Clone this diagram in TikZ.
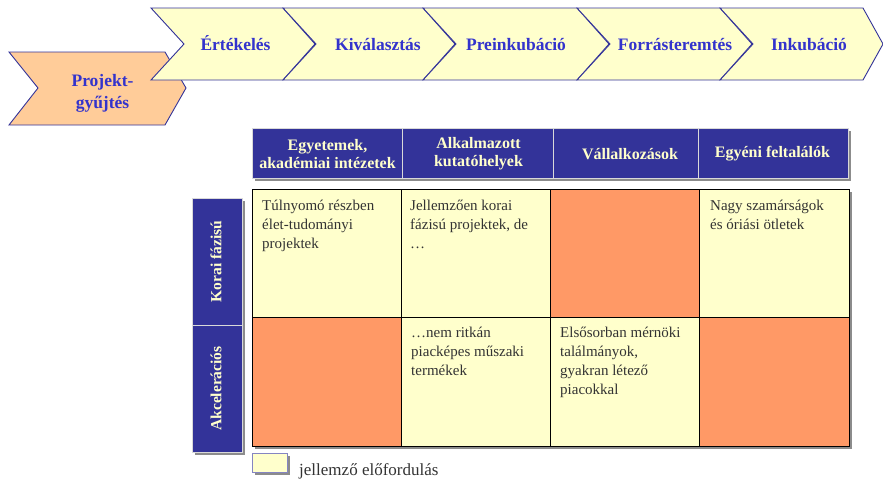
\documentclass[tikz,border=0pt]{standalone}
\usepackage{fontspec}
\setmainfont{Liberation Serif}
\definecolor{paleyellow}{HTML}{FFFFCC}
\definecolor{peach}{HTML}{FFCC99}
\definecolor{salmon}{HTML}{FF9966}
\definecolor{navy}{HTML}{333399}
\definecolor{chevblue}{HTML}{3333CC}
\definecolor{shadowgray}{HTML}{8C8C8C}
\definecolor{celltext}{HTML}{333333}
\begin{document}
\begin{tikzpicture}[x=1pt,y=-1pt,
    chev/.style={fill=paleyellow, draw=navy, line width=0.9pt},
    chevtext/.style={font=\fontsize{17.5}{22}\selectfont\bfseries, text=chevblue, align=center},
    headtext/.style={font=\fontsize{16}{18}\selectfont\bfseries, text=paleyellow, align=center},
    cell/.style={draw=black, line width=0.8pt},
    celltext/.style={anchor=north west, inner sep=0pt, align=left, text=celltext, font=\fontsize{15}{19}\selectfont},
    sidetext/.style={rotate=90, font=\fontsize{15.5}{18}\selectfont\bfseries, text=paleyellow}]
\useasboundingbox (0,0) rectangle (883,482);

% folyamat
\draw[chev, fill=peach] (9,52) -- (165,52) -- (186,88) -- (165,125) -- (9,125) -- (38,88) -- cycle;
\node[chevtext] (projekt) at (102.5,93) {Projekt-\\gyűjtés};

\foreach \a/\b/\d/\c/\nm/\txt in {151/283/32/235.5/ertek/Értékelés, 283/423/32/378/kival/Kiválasztás,
    423/577/32/516/preink/Preinkubáció, 577/720/32/675/forras/Forrásteremtés, 720/863/20/809/inkub/Inkubáció}{
  \draw[chev] (\a,8) -- (\b,8) -- ++(\d,36) -- (\b,80) -- (\a,80) -- ++(33,-36) -- cycle;
  \node[chevtext, anchor=base] (\nm) at (\c,50) {\txt};
}

% fejlec
\fill[shadowgray] (255,131) rectangle (851,181);
\fill[navy] (252,128) rectangle (848,178);
\foreach \x in {402,553,698} \draw[gray!30, line width=1pt] (\x,128) -- (\x,178);
\draw[gray!30, line width=1pt] (252,128) rectangle (848,178);
\node[headtext] (egyetem) at (327.5,154) {Egyetemek,\\akadémiai intézetek};
\node[headtext] (alkalm) at (478.5,154) {Alkalmazott\\kutatóhelyek};
\node[headtext] (vallalk) at (630,154) {Vállalkozások};
\node[headtext] (feltal) at (772.5,154) {Egyéni feltalálók};

% sorok
\fill[shadowgray] (195,201) rectangle (245,455);
\fill[navy] (192,198) rectangle (242,452);
\draw[gray!30, line width=1pt] (192,198) rectangle (242,452);
\draw[gray!30, line width=1pt] (192,325) -- (242,325);
\node[sidetext] (korai) at (216,261.5) {Korai fázisú};
\node[sidetext] (akcel) at (216,388.5) {Akcelerációs};

% tablazat
\fill[shadowgray] (255,192) rectangle (852,449);
\foreach \xa/\xb/\ya/\yb/\col in {252/401/189/317/paleyellow, 401/550/189/317/paleyellow,
    550/699/189/317/salmon, 699/849/189/317/paleyellow, 252/401/317/446/salmon,
    401/550/317/446/paleyellow, 550/699/317/446/paleyellow, 699/849/317/446/salmon}
  \draw[cell, fill=\col] (\xa,\ya) rectangle (\xb,\yb);

\node[celltext] (t11) at (262,197) {\strut Túlnyomó részben\\élet-tudományi\\projektek};
\node[celltext] (t12) at (410,197) {\strut Jellemzően korai\\fázisú projektek, de\\\dots};
\node[celltext] (t14) at (710,197) {\strut Nagy szamárságok\\és óriási ötletek};
\node[celltext] (t22) at (411,324) {\strut\dots nem ritkán\\piacképes műszaki\\termékek};
\node[celltext] (t23) at (560,324) {\strut Elsősorban mérnöki\\találmányok,\\gyakran létező\\piacokkal};

% jelmagyarazat
\fill[shadowgray] (255,456) rectangle (290,475);
\draw[fill=paleyellow, draw=navy!60] (252,453) rectangle (287,472);
\node[anchor=base west, inner sep=0pt, text=celltext, font=\fontsize{17}{19}\selectfont] (legend) at (299,475) {jellemző előfordulás};

\end{tikzpicture}
\end{document}
